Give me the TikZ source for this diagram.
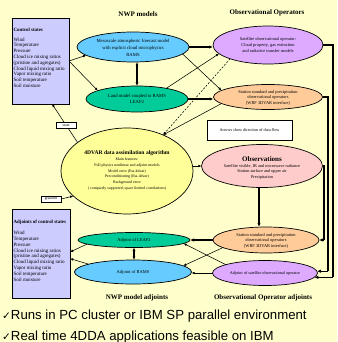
\documentclass[tikz,border=0pt]{standalone}
\usepackage{fontspec}
\setmainfont{Liberation Serif}
\newfontfamily\sansf{Liberation Sans}
\newfontfamily\symf{DejaVu Sans}
\usetikzlibrary{shapes.geometric,arrows.meta,calc}
\definecolor{bgc}{HTML}{FFFFCC}
\definecolor{boxc}{HTML}{CCCCFF}
\definecolor{ramsc}{HTML}{66CCFF}
\definecolor{landc}{HTML}{00CC99}
\definecolor{satc}{HTML}{DDAAFF}
\definecolor{stac}{HTML}{FFCC99}
\definecolor{dvarc}{HTML}{FFFF99}
\definecolor{obsc}{HTML}{FFCCCC}
\begin{document}
\begin{tikzpicture}[x=1pt,y=-1pt,
  ell/.style={ellipse, draw=black, line width=0.7pt, inner sep=0pt, outer sep=0pt},
  etxt/.style={align=center, inner sep=0pt},
  sbox/.style={rectangle, draw=black, line width=0.7pt, fill=boxc, inner sep=0pt, outer sep=0pt, anchor=north west},
  tarr/.style={-{Latex[length=3.2pt,width=2.6pt]}, line width=0.55pt},
  karr/.style={-{Latex[length=4pt,width=3.4pt]}, line width=1.3pt},
  kline/.style={line width=1.3pt},
  darr/.style={{Latex[length=3.5pt,width=3pt]}-{Latex[length=3.5pt,width=3pt]}, line width=1.1pt},
  ttl/.style={font=\bfseries\fontsize{7}{8}\selectfont, inner sep=0pt},
  lbl/.style={draw=black, fill=white, line width=0.6pt, font=\fontsize{3.8}{4}\selectfont, inner sep=0.5pt, minimum width=20pt, minimum height=6pt},
  listtxt/.style={align=left, inner sep=0pt, anchor=north west, font=\fontsize{5}{5.8}\selectfont},
  hdr/.style={inner sep=0pt, anchor=west, font=\bfseries\fontsize{4.9}{5}\selectfont}
]
\fill[bgc] (0,0) rectangle (337,342);
\useasboundingbox (0,0) rectangle (337,342);

% titles
\node[ttl] (t1) at (138,14) {NWP models};
\node[ttl] (t2) at (267,13) {Observational Operators};
\node[ttl] (t3) at (137,298) {NWP model adjoints};
\node[ttl] (t4) at (263,298) {Observational Operator adjoints};

% state boxes
\node[sbox, minimum width=57pt, minimum height=86pt] (ctrl) at (12,18) {};
\node[hdr] (ctrlh) at (13.5,30) {Control states};
\node[listtxt] (ctrll) at (13.5,37.5) {Wind\\Temperature\\Pressure\\Cloud ice mixing ratios\\(pristine and agregates)\\Cloud liquid mixing ratio\\Vapor mixing ratio\\Soil temperature\\Soil moisture};

\node[sbox, minimum width=58pt, minimum height=89pt] (adjb) at (12,209) {};
\node[hdr] (adjh) at (13.5,222) {Adjoints of control states};
\node[listtxt] (adjl) at (13.5,231) {Wind\\Temperature\\Pressure\\Cloud ice mixing ratios\\(pristine and agregates)\\Cloud liquid mixing ratio\\Vapor mixing ratio\\Soil temperature\\Soil moisture};

% ellipses
\node[ell, fill=ramsc, minimum width=112pt, minimum height=30pt] (rams) at (133,47) {};
\node[etxt, font=\fontsize{4.7}{7}\selectfont] (ramst) at (133,47.5) {Mesoscale atmospheric forecast model\\with explicit cloud microphysics\\RAMS};

\node[ell, fill=landc, minimum width=102pt, minimum height=26pt] (land) at (137,99) {};
\node[etxt, font=\fontsize{4.7}{6.7}\selectfont] (landt) at (137,99) {Land model coupled to RAMS\\LEAF2};

\node[ell, fill=satc, minimum width=110pt, minimum height=38pt] (sat) at (268,45) {};
\node[etxt, font=\fontsize{4.4}{5.7}\selectfont] (satt) at (268,45) {Satellite observational operator:\\Cloud property, gas extinction\\and radiative transfer models};

\node[ell, fill=stac, minimum width=109pt, minimum height=25pt] (sta) at (268,97) {};
\node[etxt, font=\fontsize{4.4}{5.5}\selectfont] (stat) at (268,97.5) {Station standard and precipitation\\observational operators\\(WRF 3DVAR interface)};

\node[draw=black, fill=white, line width=0.7pt, minimum width=85pt, minimum height=20pt, inner sep=0pt, font=\fontsize{4.2}{5}\selectfont] (note) at (249.5,130) {Arrows show direction of data flow};

\node[ell, fill=dvarc, minimum width=132pt, minimum height=86pt] (dvar) at (127,171) {};
\node[etxt, font=\fontsize{3.9}{5.8}\selectfont] (dvart) at (127,170.5) {{\bfseries\fontsize{5.6}{6}\selectfont 4DVAR data assimilation algorithm}\\Main features:\\Full physics nonlinear and adjoint models\\Model error (Eta-4dvar)\\Preconditioning (Eta-4dvar)\\Background error\\( compactly supported, space limited correlations)};

\node[ell, fill=obsc, minimum width=121pt, minimum height=43pt] (obs) at (262,166) {};
\node[etxt, font=\fontsize{4.3}{5.7}\selectfont] (obst) at (262,168) {{\bfseries\fontsize{7}{7}\selectfont Observations}\\Satellite visible, IR and microwave radiance\\Station surface and upper air\\Precipitation};

\node[ell, fill=stac, minimum width=106pt, minimum height=26pt] (stadj) at (266,240) {};
\node[etxt, font=\fontsize{4.4}{5.5}\selectfont] (stadjt) at (266,240.5) {Station standard and precipitation\\observational operators\\(WRF 3DVAR interface)};

\node[ell, fill=satc, minimum width=105pt, minimum height=25pt] (satadj) at (265,273) {};
\node[etxt, font=\fontsize{4.2}{5}\selectfont] (satadjt) at (265,273) {Adjoint of satellite observational operator};

\node[ell, fill=landc, minimum width=112pt, minimum height=15pt] (leafadj) at (134,240) {};
\node[etxt, font=\fontsize{4.5}{5}\selectfont] (leafadjt) at (134,240) {Adjoint of LEAF2};

\node[ell, fill=ramsc, minimum width=117pt, minimum height=24pt] (ramsadj) at (133,272) {};
\node[etxt, font=\fontsize{4.5}{5}\selectfont] (ramsadjt) at (133,272) {Adjoint of RAMS};

% forward connectors
\draw[tarr] (ctrl.east) -- (rams.190);
\draw[tarr] (ctrl.east) -- (land.168);
\draw[darr] (land.north) -- (land.north |- rams.south);
\draw[karr] (rams.east) -- (rams.east -| sat.west);
\draw[karr] (land.east) -- (land.east -| sta.west);
\draw[tarr] (rams.-8) -- (sta.172);
\draw[tarr] (land.20) -- (sat.190);
\draw[tarr, dashed, dash pattern=on 2pt off 1.5pt] (sat.200) -- (dvar.45);
\draw[tarr] (sta.188) -- (dvar.45);
\draw[tarr] (obs.west -| dvar.east) -- (obs.west);
\draw[tarr] (dvar.150) -- node[lbl, pos=0.45] (statel) {state} (ctrl.-75);
\node[lbl] (grad) at (51,199) {gradient};
\draw[tarr] (grad.east) -- (dvar.205);

% right side routing
\coordinate (r1) at (333,0);
\coordinate (r2) at (328,0);
\coordinate (r3) at (324,0);
\draw[kline] (sat.east) -| (r1 |- satadj.-5);
\draw[karr] (r1 |- satadj.-5) -- (satadj.-5);
\draw[kline] (sta.east) -| (r2 |- satadj.2);
\draw[karr] (r2 |- satadj.2) -- (satadj.2);
\draw[kline] (obs.east) -| (r3 |- stadj.east);
\draw[karr] (r3 |- stadj.east) -- (stadj.east);

% adjoint connectors
\draw[karr] (obs.262) -- (obs.262 |- stadj.north);
\draw[karr] (stadj.west) -- (stadj.west -| leafadj.east);
\draw[tarr] (stadj.190) -- (ramsadj.7);
\draw[tarr] (satadj.168) -- (leafadj.-4);
\draw[tarr] (satadj.west) -- (satadj.west -| ramsadj.east);
\draw[darr] (leafadj.south) -- (leafadj.south |- ramsadj.north);
\draw[tarr] (leafadj.185) -- (adjb.3);
\draw[tarr] (ramsadj.170) -- (adjb.-10);

% bottom text
\node[anchor=base west, inner sep=0pt, font=\sansf\fontsize{13.2}{16}\selectfont] (b1) at (2,319.5) {{\symf\fontsize{10.5}{12}\selectfont ✓}Runs in PC cluster or IBM SP parallel environment};
\node[anchor=base west, inner sep=0pt, font=\sansf\fontsize{13.2}{16}\selectfont] (b2) at (2,340.5) {{\symf\fontsize{10.5}{12}\selectfont ✓}Real time 4DDA applications feasible on IBM};
\end{tikzpicture}
\end{document}
